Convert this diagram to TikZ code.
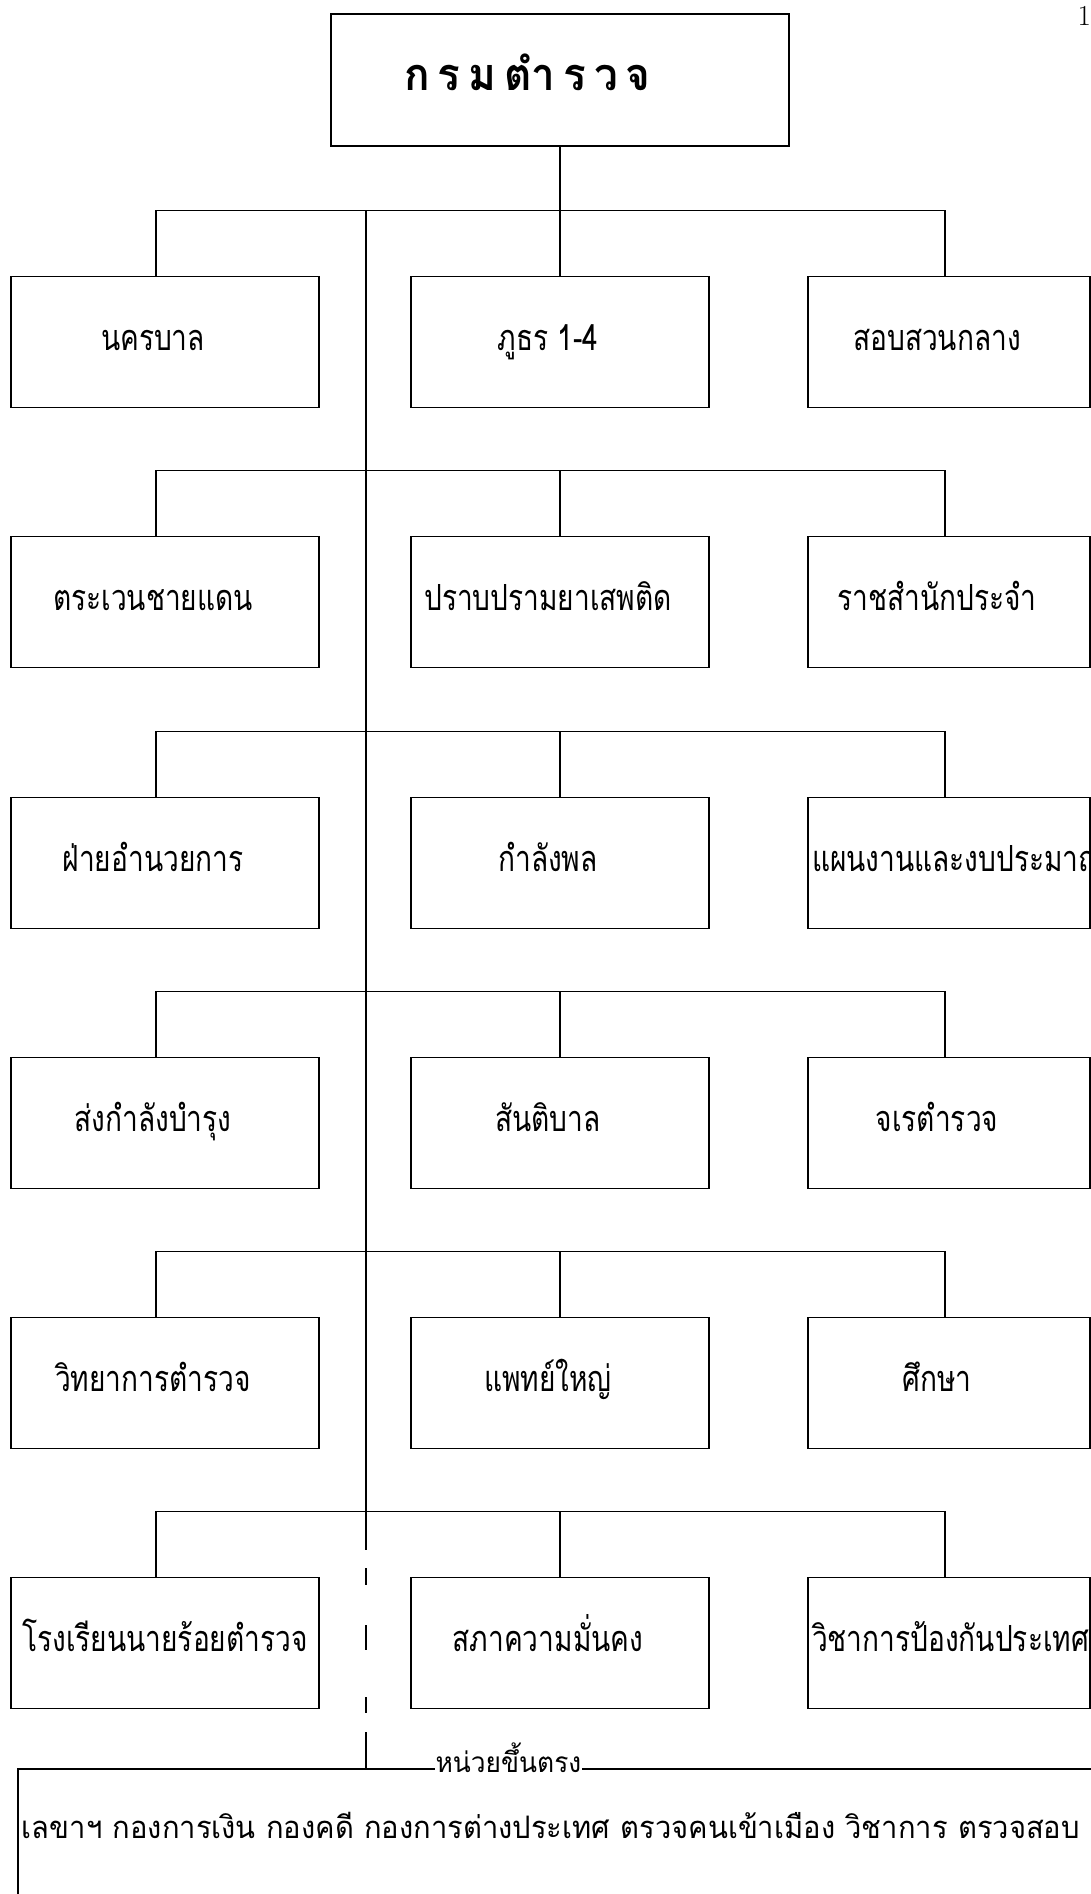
\documentclass[tikz,border=0pt]{standalone}
\usepackage{fontspec}
\newfontfamily\thaifont[Script=Thai,FakeStretch=0.78]{Loma}
\newfontfamily\thaiwide[Script=Thai,FakeStretch=0.94]{Loma}
\newcommand\tgap{\hspace{8pt}}
\tikzset{org/.style={x=1pt,y=-1pt,line width=1.2pt,font=\thaifont\fontsize{36}{38}\selectfont},
  unit/.style={draw,line width=1.8pt,minimum height=131pt,inner sep=0pt,text height=17pt,text depth=0pt},
  nudge/.style={execute at begin node={\hspace*{-24pt}}},
  flush/.style={},
  spill/.style={text width=274pt,align=left}}

\begin{document}
\begin{tikzpicture}[org]
  \useasboundingbox (0,0) rectangle (1090,1894);
  % top
  \node[unit,minimum width=458pt,minimum height=132pt,inner xsep=73pt,text width=312pt,text height=21pt,align=left,
    font=\thaiwide\bfseries\fontsize{45}{47}\selectfont] (top) at (560,80)
    {ก\tgap ร\tgap ม\tgap ตำ\tgap ร\tgap ว\tgap จ};
  \node[font=\rmfamily\fontsize{29}{30}\selectfont,anchor=north west,inner sep=0pt] (page) at (1077,6) {1};
  % rows
  \foreach \r/\y/\t/\a/\b/\c/\s in {1/342/nudge/นครบาล/ภูธร 1-4/สอบสวนกลาง/nudge,
      2/602/nudge/ตระเวนชายแดน/ปราบปรามยาเสพติด/ราชสำนักประจำ/nudge,
      3/863/nudge/ฝ่ายอำนวยการ/กำลังพล/แผนงานและงบประมาณ/spill,
      4/1123/nudge/ส่งกำลังบำรุง/สันติบาล/จเรตำรวจ/nudge,
      5/1383/nudge/วิทยาการตำรวจ/แพทย์ใหญ่/ศึกษา/nudge,
      6/1643/flush/โรงเรียนนายร้อยตำรวจ/สภาความมั่นคง/วิชาการป้องกันประเทศ/spill}{
    \node[unit,\t,minimum width=308pt] (W\r) at (165,\y) {\a};
    \node[unit,nudge,minimum width=298pt] (M\r) at (560,\y) {\b};
    \node[unit,\s,minimum width=282pt] (E\r) at (949,\y) {\c};
    \draw ([xshift=-9pt]W\r.north) -- ++(0,-65) -| ([xshift=-4pt]E\r.north);
    \draw (M\r.north) -- ++(0,-65);
  }
  \draw (top.south) -- (M1.north);
  % direct units
  \node[draw,line width=1.8pt,anchor=north west,inner xsep=4pt,inner ysep=0pt,text height=70pt,text depth=100pt,
    text width=1100pt,align=left,font=\thaiwide\fontsize{31}{33}\selectfont] (direct) at (17,1768)
    {เลขาฯ กองการเงิน กองคดี กองการต่างประเทศ ตรวจคนเข้าเมือง วิชาการ ตรวจสอบ};
  \node[fill=white,inner xsep=1pt,inner ysep=0pt,anchor=base west,font=\thaiwide\fontsize{28}{30}\selectfont]
    (direct label) at (434,1772) {หน่วยขึ้นตรง};
  % spine
  \coordinate (spine top) at (366,211);
  \coordinate (spine gap) at (366,1550);
  \coordinate (spine end) at (366,1732);
  \draw (spine top) -- (spine gap);
  \draw[dash pattern=on 0pt off 18pt on 17pt off 40pt on 25pt off 47pt on 16pt off 19pt] (spine gap) -- (spine end);
  \draw (spine end) -- (spine end |- direct.north);
\end{tikzpicture}
\end{document}
